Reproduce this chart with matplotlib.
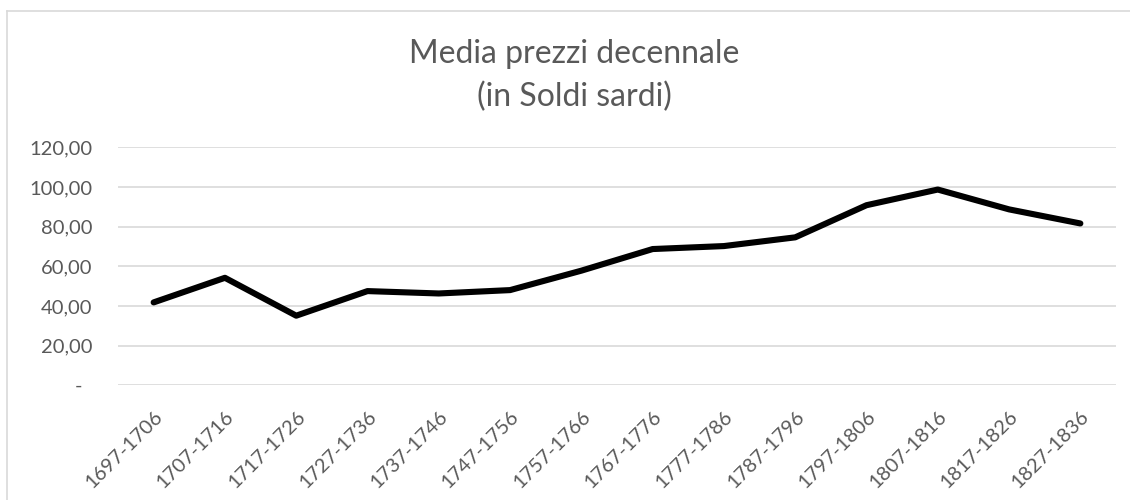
import matplotlib.pyplot as plt
import matplotlib.transforms as mtransforms
from matplotlib.lines import Line2D

periods = ['1697-1706', '1707-1716', '1717-1726', '1727-1736', '1737-1746',
           '1747-1756', '1757-1766', '1767-1776', '1777-1786', '1787-1796',
           '1797-1806', '1807-1816', '1817-1826', '1827-1836']
prices = [41.8, 54.2, 35.1, 47.5, 46.3, 48.0, 57.8,
          68.7, 70.2, 74.6, 90.8, 98.7, 88.7, 81.6]

y_ticks = [0, 20, 40, 60, 80, 100, 120]
y_labels = ['-  ', '20,00', '40,00', '60,00', '80,00', '100,00', '120,00']

TEXT_COLOR = '#595959'
GRID_COLOR = '#d9d9d9'

plt.rcParams['font.family'] = ['Lato', 'DejaVu Sans']

fig = plt.figure(figsize=(11.3, 5), dpi=100)
W, H = 1130, 500
ax = fig.add_axes([118 / W, 1 - 385.3 / H, (1116 - 118) / W, (385.3 - 147.3) / H])

x = list(range(len(periods)))
ax.plot(x, prices, color='black', lw=4.4, solid_joinstyle='round',
        solid_capstyle='round', zorder=3)

ax.set_xlim(-0.5, len(periods) - 0.5)
ax.set_ylim(0, 120)
ax.set_yticks(y_ticks)
ax.set_yticklabels(y_labels)
ax.set_xticks(x)
ax.set_xticklabels(periods, rotation=45, ha='right', va='top',
                   rotation_mode='anchor')

# nudge the rotated labels a little to the right, like Excel does
offset = mtransforms.ScaledTranslation(4 / 100, 0, fig.dpi_scale_trans)
for lbl in ax.get_xticklabels():
    lbl.set_transform(lbl.get_transform() + offset)

ax.tick_params(axis='both', length=0, colors=TEXT_COLOR, labelsize=14.5)
ax.tick_params(axis='y', pad=18.5)
ax.tick_params(axis='x', pad=16)

ax.grid(axis='y', color=GRID_COLOR, lw=1.2)
ax.set_axisbelow(True)
for side in ['top', 'right', 'left', 'bottom']:
    ax.spines[side].set_visible(False)

# title, two lines
fig.text(574 / W, 1 - 63 / H, 'Media prezzi decennale', ha='center',
         va='baseline', fontsize=23, color=TEXT_COLOR)
fig.text(574 / W, 1 - 106 / H, '(in Soldi sardi)', ha='center',
         va='baseline', fontsize=23, color=TEXT_COLOR)

# chart area border (right and bottom edges are cropped in the original)
fig.add_artist(Line2D([7 / W, 7 / W], [0, 1 - 11 / H], color=GRID_COLOR,
                      lw=1.2, transform=fig.transFigure))
fig.add_artist(Line2D([7 / W, 1], [1 - 11 / H, 1 - 11 / H], color=GRID_COLOR,
                      lw=1.2, transform=fig.transFigure))

fig.savefig('out.png', dpi=100)
